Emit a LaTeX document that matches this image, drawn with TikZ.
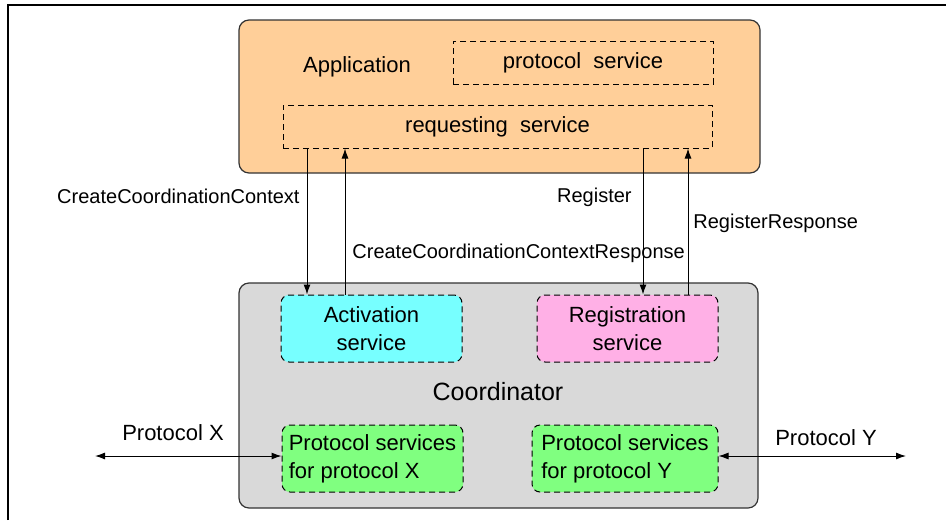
\documentclass[tikz,border=0pt]{standalone}
\usepackage{fontspec}
\setmainfont{Liberation Sans}
\usetikzlibrary{arrows.meta,positioning,calc}
\definecolor{appfill}{HTML}{FFCF99}
\definecolor{coordfill}{HTML}{D9D9D9}
\definecolor{actfill}{HTML}{77FFFF}
\definecolor{regfill}{HTML}{FFB0E6}
\definecolor{protfill}{HTML}{80FF80}

\begin{document}
\begin{tikzpicture}[x=0.5pt, y=-0.5pt,
  bigbox/.style={rectangle, draw=black!80, line width=0.6pt, fill=#1, rounded corners=5pt, inner sep=0pt},
  dbox/.style={rectangle, draw, dashed, dash pattern=on 3pt off 2pt, line width=0.5pt, inner sep=0pt, font=\fontsize{11}{13}\selectfont},
  svc/.style={dbox, fill=#1, rounded corners=4pt, minimum width=90.5pt, minimum height=33.5pt, align=center, font=\fontsize{11}{14}\selectfont},
  lbl/.style={inner sep=0pt, font=\fontsize{10}{12}\selectfont},
  arr/.style={-{Latex[length=5pt, width=3.5pt]}, line width=0.5pt},
  darr/.style={{Latex[length=5pt, width=3.5pt]}-{Latex[length=5pt, width=3.5pt]}, line width=0.5pt}
]
  \useasboundingbox (0,0) rectangle (946,520);
  \draw[line width=0.6pt] (8,520) -- (8,5) -- (946,5);

  % application side
  \node[bigbox=appfill, minimum width=260.5pt, minimum height=76.5pt] (app) at (499.5,96.5) {};
  \node[font=\fontsize{11}{13}\selectfont] (apptxt) at (357,67) {Application};
  \node[dbox, minimum width=130pt, minimum height=21.5pt] (prot) at (583,62.5) {protocol\ \ service};
  \node[dbox, minimum width=214.5pt, minimum height=21.5pt] (req) at (497.5,126.5) {requesting\ \ service};

  % coordinator side
  \node[bigbox=coordfill, minimum width=259.5pt, minimum height=112.5pt] (coord) at (498.5,395.5) {};
  \node[font=\fontsize{12.5}{15}\selectfont] (coordtxt) at (498,392) {Coordinator};
  \node[svc=actfill] (act) at (371.5,328.5) {Activation\\service};
  \node[svc=regfill] (reg) at (627.5,328.5) {Registration\\service};
  \node[svc=protfill, align=left] (px) at (372.5,458.5) {Protocol services\\for protocol X};
  \node[svc=protfill, align=left, minimum width=93pt] (py) at (625,458.5) {Protocol services\\for protocol Y};

  % message columns
  \coordinate (c1) at (307,0);
  \coordinate (c2) at (345,0);
  \coordinate (c3) at (643,0);
  \coordinate (c4) at (688,0);
  \draw[arr] (req.south -| c1) -- (act.north -| c1);
  \draw[arr] (act.north -| c2) -- (req.south -| c2);
  \draw[arr] (req.south -| c3) -- (reg.north -| c3);
  \draw[arr] (reg.north -| c4) -- (req.south -| c4);

  \node[lbl, anchor=east] (l1) at (300,196) {CreateCoordinationContext};
  \node[lbl, anchor=west] (l2) at (352,253) {CreateCoordinationContextResponse};
  \node[lbl, anchor=east] (l3) at (632,197) {Register};
  \node[lbl, anchor=west] (l4) at (693,223) {RegisterResponse};

  % external protocols
  \coordinate (pxend) at (95,456);
  \coordinate (pyend) at (906,456);
  \draw[darr] (pxend) -- (pxend -| px.west);
  \draw[darr] (pyend -| py.east) -- (pyend);
  \node[font=\fontsize{11}{13}\selectfont] (pxtxt) at (173,433) {Protocol X};
  \node[font=\fontsize{11}{13}\selectfont] (pytxt) at (826,438) {Protocol Y};
\end{tikzpicture}
\end{document}
